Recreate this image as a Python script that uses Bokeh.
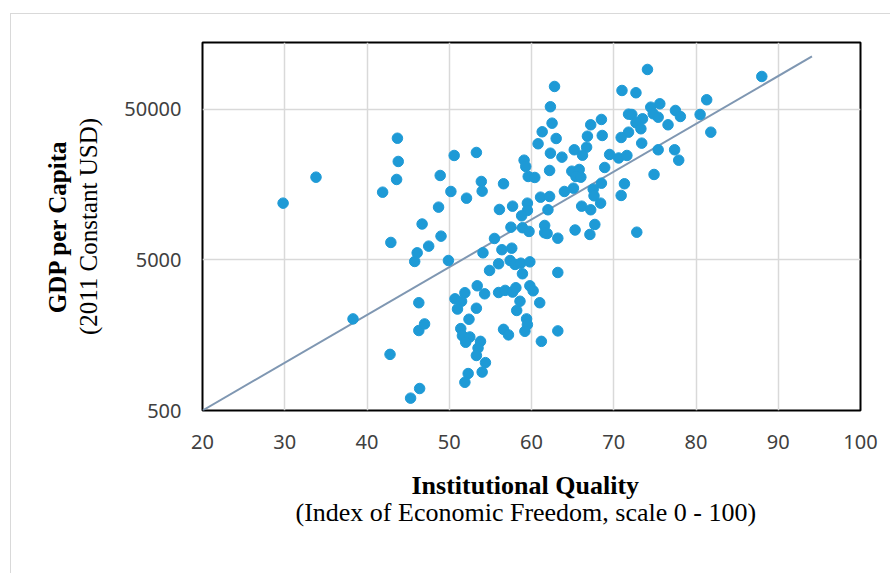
from bokeh.plotting import figure
from bokeh.models import Title, FixedTicker, NumeralTickFormatter, Range1d
from bokeh.embed import file_html
from bokeh.resources import INLINE

# Index of Economic Freedom (x) and GDP per capita, 2011 constant USD (y)
freedom_index = [
    43.7, 43.8, 33.8, 43.6, 29.8, 41.9, 46.7, 42.9, 46.1, 45.8, 46.3, 38.3, 46.3, 42.8, 46.4, 45.3,
    62.8, 71.0, 62.3, 71.8, 68.5, 62.5, 67.2, 61.3, 71.8, 66.8, 68.6, 63.0, 70.9, 60.8, 66.7, 65.2,
    62.3, 66.2, 50.6, 53.3, 69.5, 63.7, 70.6, 71.6, 59.1, 59.3, 68.9, 62.2, 64.9, 65.8, 48.9, 59.6,
    60.4, 65.4, 66.0, 53.9, 56.6, 68.5, 71.3, 65.1, 67.5, 50.2, 54.0, 64.0, 52.1, 61.1, 62.2, 67.6,
    70.9, 59.5, 68.4, 48.7, 57.7, 66.1, 56.1, 59.5, 62.0, 67.2, 58.8, 57.5, 58.9, 59.7, 61.6, 61.6,
    61.9, 65.3, 67.7, 67.1, 49.0, 55.5, 63.2,
    47.5, 56.4, 57.6, 54.1, 49.9, 57.4, 58.0, 58.7, 59.8, 56.0, 54.9, 58.9, 63.2, 53.4, 51.9, 54.3,
    50.7, 51.5, 51.0, 53.3, 56.0, 56.8, 57.7, 58.1, 59.8, 60.2, 58.6, 61.0, 58.2, 52.4, 51.4, 47.0,
    59.4, 59.5, 59.2, 56.6, 57.2, 63.2, 51.6, 52.5, 52.0, 53.8, 53.5, 53.3, 61.2, 54.4, 54.0, 52.3,
    51.9,
    74.1, 88.0, 72.7, 81.3, 75.6, 74.5, 77.5, 80.5, 72.2, 74.8, 75.4, 78.1, 73.5, 72.7, 73.3, 76.6,
    81.8, 73.4, 75.4, 77.4, 77.9, 74.9, 72.8,
]
gdp_per_capita = [
    32200, 22570, 17750, 17140, 11930, 14110, 8670, 6540, 5580, 4890, 2600, 2030, 1700, 1180, 700, 604,
    71100, 66870, 52120, 46540, 42920, 40550, 39560, 35540, 35330, 33230, 33590, 32080, 32580, 29590, 28090, 26990,
    25620, 24850, 24740, 25900, 25120, 24110, 23810, 24740, 23020, 20910, 20590, 19670, 19450, 19970, 18220, 17940,
    17670, 17940, 17750, 16620, 16050, 16190, 16050, 15000, 14770, 14260, 14330, 14260, 12870, 13070, 13210, 13350,
    13420, 11930, 11930, 11220, 11390, 11390, 10830, 10660, 10780, 10780, 9830, 8260, 8190, 7740, 8480, 7580,
    7500, 7910, 8610, 7390, 7200, 6950, 6980,
    6180, 5850, 5990, 5580, 4960, 4960, 4670, 4760, 4860, 4720, 4260, 4050, 4130, 3370, 3030, 2980,
    2760, 2660, 2360, 2390, 3040, 3140, 3060, 3270, 3370, 3120, 2660, 2600, 2310, 2020, 1750, 1880,
    2030, 1860, 1680, 1730, 1590, 1690, 1570, 1540, 1420, 1440, 1300, 1160, 1440, 1040, 900, 880,
    770,
    92210, 82840, 64570, 58010, 54560, 51800, 49250, 46320, 46320, 46810, 44440, 44920, 43370, 40790, 37220, 39560,
    35330, 29870, 26990, 26990, 23020, 18500, 7650,
]
trend_x = [20, 94.1]
trend_y = [500, 112500]
x_ticks = [20, 30, 40, 50, 60, 70, 80, 90, 100]
y_ticks = [500, 5000, 50000]

p = figure(width=880, height=560, output_backend="svg", toolbar_location=None,
           y_axis_type="log", x_range=Range1d(20, 100), y_range=Range1d(500, 139300),
           min_border_left=191, min_border_right=31, min_border_top=28, min_border_bottom=164)
p.styles = {"margin-left": "10px", "margin-top": "13px",
            "border-left": "1px solid #D9D9D9", "border-top": "1px solid #D9D9D9"}
p.background_fill_color = "white"
p.border_fill_color = "white"
p.outline_line_color = "black"
p.outline_line_width = 2

p.xaxis.ticker = FixedTicker(ticks=x_ticks)
p.yaxis.ticker = FixedTicker(ticks=y_ticks)
p.yaxis.formatter = NumeralTickFormatter(format="0")
for ax in (p.xaxis, p.yaxis):
    ax.axis_line_color = None
    ax.major_tick_line_color = None
    ax.minor_tick_line_color = None
    ax.major_tick_out = 0
    ax.major_tick_in = 0
    ax.minor_tick_out = 0
    ax.minor_tick_in = 0
    ax.major_label_text_font = "Noto Sans"
    ax.major_label_text_font_size = "20px"
    ax.major_label_text_color = "#404040"
p.xaxis.major_label_standoff = 24
p.yaxis.major_label_standoff = 21

p.xgrid.ticker = FixedTicker(ticks=x_ticks)
p.ygrid.ticker = FixedTicker(ticks=y_ticks)
p.grid.grid_line_color = "#D9D9D9"
p.grid.grid_line_width = 1.5

p.line(trend_x, trend_y, line_color="#7F97B2", line_width=2)
p.scatter(freedom_index, gdp_per_capita, size=10.5, fill_color="#1E9AD6", line_color="#1E9AD6")

serif = "Liberation Serif"
p.add_layout(Title(text="Institutional Quality", text_font=serif, text_font_style="bold",
                   text_font_size="26px", text_color="black", align="left", offset=209,
                   standoff=34), "below")
p.add_layout(Title(text="(Index of Economic Freedom, scale 0 - 100)", text_font=serif,
                   text_font_style="normal", text_font_size="26px", text_color="black",
                   align="left", offset=93, vertical_align="top", standoff=-38), "below")
p.add_layout(Title(text="(2011 Constant USD)", text_font=serif, text_font_style="normal",
                   text_font_size="25px", text_color="black", align="center", standoff=40), "left")
p.add_layout(Title(text="GDP per Capita", text_font=serif, text_font_style="bold",
                   text_font_size="25px", text_color="black", align="center", standoff=-37), "left")

open("out.html", "w").write(file_html(p, INLINE))
